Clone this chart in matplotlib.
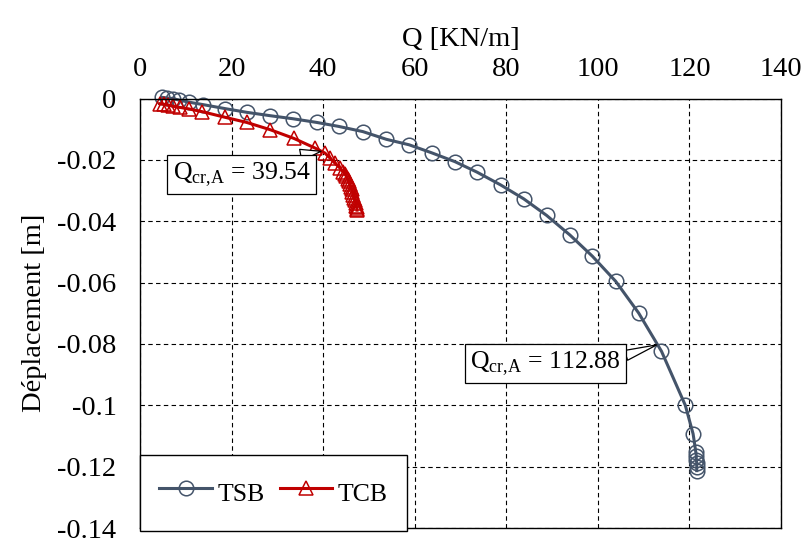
import numpy as np
import matplotlib
matplotlib.use("Agg")
import matplotlib.pyplot as plt
from matplotlib.ticker import FuncFormatter

plt.rcParams['font.family'] = ['Liberation Serif', 'DejaVu Serif']
plt.rcParams['mathtext.fontset'] = 'custom'
plt.rcParams['mathtext.rm'] = 'Liberation Serif'
plt.rcParams['axes.unicode_minus'] = False

# ---- data ----
tsb_q = [4.7, 5.8, 7.1, 8.5, 10.7, 13.8, 18.6, 23.3, 28.4, 33.4, 38.6, 43.4, 48.7,
         53.8, 58.8, 63.7, 68.8, 73.6, 78.8, 83.8, 88.8, 93.9, 98.8, 103.9, 108.9,
         113.9, 119.1, 120.8, 121.4, 121.5, 121.5, 121.6, 121.6, 121.6]
tsb_d = [0.0004, 0.0002, 0.0, -0.0005, -0.0012, -0.0020, -0.0033, -0.0045, -0.0056,
         -0.0066, -0.0078, -0.0091, -0.0108, -0.0133, -0.0151, -0.0177, -0.0206,
         -0.0240, -0.0282, -0.0327, -0.0381, -0.0445, -0.0514, -0.0596, -0.0699,
         -0.0824, -0.1000, -0.1093, -0.1153, -0.1165, -0.1177, -0.1189, -0.1201, -0.1213]

tcb_q = [4.3, 5.2, 6.2, 7.2, 8.7, 10.7, 13.6, 18.5, 23.3, 28.5, 33.6, 38.3, 40.4,
         41.5, 42.6, 43.7, 44.4, 44.8, 45.1, 45.4, 45.6, 45.8, 46.0, 46.2, 46.4,
         46.6, 46.8, 46.9, 47.1, 47.2, 47.3, 47.4, 47.4]
tcb_d = [-0.0017, -0.0019, -0.0022, -0.0025, -0.0029, -0.0034, -0.0043, -0.0061,
         -0.0078, -0.0102, -0.0130, -0.0162, -0.0178, -0.0194, -0.0211, -0.0227,
         -0.0240, -0.0246, -0.0254, -0.0262, -0.0270, -0.0278, -0.0287, -0.0296,
         -0.0305, -0.0314, -0.0323, -0.0332, -0.0341, -0.0349, -0.0355, -0.0360, -0.0364]

x_ticks = [0, 20, 40, 60, 80, 100, 120, 140]
y_ticks = [0, -0.02, -0.04, -0.06, -0.08, -0.1, -0.12, -0.14]

qcr_tcb = 39.54
qcr_tcb_d = -0.0172
qcr_tsb = 112.88
qcr_tsb_d = -0.0803

blue = '#44546A'
red = '#C00000'

fig = plt.figure(figsize=(8.04, 5.41), dpi=100)
ax = fig.add_axes([140/804, 1-528/541, 641/804, (528-98.5)/541])

ax.plot(tsb_q, tsb_d, color=blue, lw=2.2, marker='o', ms=10.5, mfc='none',
        mec=blue, mew=1.1, label='TSB', clip_on=False, zorder=2)
ax.plot(tcb_q, tcb_d, color=red, lw=2.2, marker='^', ms=9.5, mfc='none',
        mec=red, mew=1.1, label='TCB', clip_on=False, zorder=2.1)

ax.set_xlim(0, 140)
ax.set_ylim(-0.14, 0)
ax.set_xticks(x_ticks)
ax.set_yticks(y_ticks)
ax.yaxis.set_major_formatter(FuncFormatter(lambda v, p: '0' if abs(v) < 1e-9 else f'{round(v, 3):g}'))
ax.xaxis.tick_top()
ax.xaxis.set_label_position('top')
ax.tick_params(axis='x', length=0, pad=12, labelsize=20.5)
ax.tick_params(axis='y', length=0, pad=17, labelsize=20.5)
ax.set_xlabel('Q [KN/m]', fontsize=20.5, labelpad=8)
ax.set_ylabel('Déplacement [m]', fontsize=20.5, labelpad=7)

ax.grid(True, color='black', linestyle=(0, (4, 3)), linewidth=0.8)
ax.set_axisbelow(True)
for s in ax.spines.values():
    s.set_color('black')
    s.set_linewidth(1.0)

# annotations (callouts)
ax.annotate('Q$_{\\rm cr{,}A}$ = 39.54', xy=(qcr_tcb, qcr_tcb_d), xytext=(22.2, -0.0249),
            textcoords='data', ha='center', va='center', fontsize=18.5,
            bbox=dict(boxstyle='square,pad=0.2', fc='white', ec='black', lw=0.9),
            arrowprops=dict(arrowstyle='wedge,tail_width=0.45', fc='white', ec='black',
                            lw=0.9, relpos=(0.71, 1.0), shrinkA=0, shrinkB=0),
            zorder=5)
ax.annotate('Q$_{\\rm cr{,}A}$ = 112.88', xy=(qcr_tsb, qcr_tsb_d), xytext=(88.5, -0.0864),
            textcoords='data', ha='center', va='center', fontsize=18.5,
            bbox=dict(boxstyle='square,pad=0.2', fc='white', ec='black', lw=0.9),
            arrowprops=dict(arrowstyle='wedge,tail_width=0.4', fc='white', ec='black',
                            lw=0.9, relpos=(1.0, 0.72), shrinkA=0, shrinkB=0),
            zorder=5)

leg = ax.legend(loc='lower left', bbox_to_anchor=(140/804, 1-531/541),
                bbox_transform=fig.transFigure, ncol=2, fontsize=18.5,
                frameon=True, fancybox=False, framealpha=1, edgecolor='black',
                borderpad=0.75, borderaxespad=0, handlelength=2.05,
                handletextpad=0.2, columnspacing=0.6, handleheight=1.85,
                numpoints=1)
leg.get_frame().set_linewidth(1.0)
leg.set_zorder(6)

fig.savefig('out.png', dpi=100)
